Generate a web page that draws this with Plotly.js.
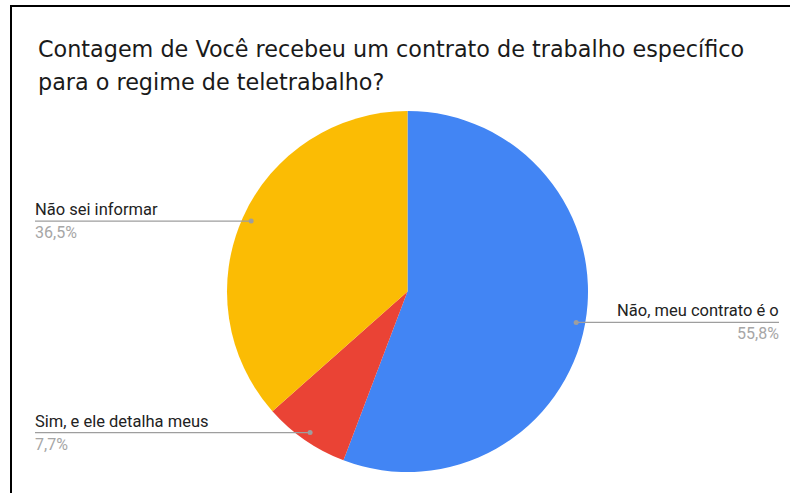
<!DOCTYPE html>
<html>
<head>
<meta charset="utf-8">
<script src="https://cdn.plot.ly/plotly-3.0.1.min.js"></script>
<style>
html,body{margin:0;padding:0;background:#fff;overflow:hidden;}
#wrap{position:relative;width:790px;height:493px;}
#chart{position:absolute;left:0;top:0;width:790px;height:493px;}
#frame{position:absolute;left:10px;top:5px;width:800px;height:500px;border-left:2px solid #000;border-top:2px solid #000;pointer-events:none;}
</style>
</head>
<body>
<div id="wrap"><div id="chart"></div><div id="frame"></div></div>
<script>
// Data
var titleLines = ["Contagem de Você recebeu um contrato de trabalho específico", "para o regime de teletrabalho?"];
var categories = ["Não, meu contrato é o", "Sim, e ele detalha meus", "Não sei informar"];
var counts = [29, 4, 19];
var percentLabels = ["55,8%", "7,7%", "36,5%"];
var colors = ["#4285F4", "#EA4335", "#FBBC04"];

// Layout geometry (pixels)
var W = 790, H = 493;
var M = {l: 227, r: 202, t: 111, b: 21};
var PW = W - M.l - M.r, PH = H - M.t - M.b;
var R = Math.min(PW, PH) / 2;
var CX = M.l + PW / 2, CY = M.t + PH / 2;
function px2x(px){ return (px - M.l) / PW; }
function py2y(py){ return (H - M.b - py) / PH; }

var total = counts.reduce(function(a,b){return a+b;}, 0);
var shapes = [], annotations = [];
var cum = 0;
var labelFont = 'Roboto, Arial, sans-serif';
for (var i = 0; i < counts.length; i++) {
  var mid = (cum + counts[i] / 2) / total;
  cum += counts[i];
  var th = 2 * Math.PI * mid;
  var dx = Math.sin(th) * 0.95 * R, dy = -Math.cos(th) * 0.95 * R;
  var dotX = CX + dx, dotY = CY + dy;
  var right = dx > 0;
  var endX = right ? 779 : 35;
  shapes.push({type:'line', xref:'paper', yref:'paper', x0:px2x(dotX), x1:px2x(endX), y0:py2y(dotY), y1:py2y(dotY), line:{color:'#9e9e9e', width:1.2}});
  shapes.push({type:'circle', xref:'paper', yref:'paper', x0:px2x(dotX-2.5), x1:px2x(dotX+2.5), y0:py2y(dotY+2.5), y1:py2y(dotY-2.5), fillcolor:'#9e9e9e', line:{width:0}});
  annotations.push({xref:'paper', yref:'paper', x:px2x(endX), y:py2y(dotY), xanchor: right ? 'right' : 'left', yanchor:'bottom', yshift:0, xshift: right ? 2 : -2, showarrow:false, text:categories[i], font:{family:labelFont, size:16.5, color:'#222222'}});
  annotations.push({xref:'paper', yref:'paper', x:px2x(endX), y:py2y(dotY), xanchor: right ? 'right' : 'left', yanchor:'top', yshift:0, xshift: right ? 2 : -2, showarrow:false, text:percentLabels[i], font:{family:labelFont, size:16, color:'#a6a6a6'}});
}
annotations.push({xref:'paper', yref:'paper', x:px2x(36), y:py2y(49), xanchor:'left', yanchor:'middle', showarrow:false, text:titleLines[0], font:{family:'DejaVu Sans, Arial, sans-serif', size:22.3, color:'#1a1a1a'}});
annotations.push({xref:'paper', yref:'paper', x:px2x(36), y:py2y(82), xanchor:'left', yanchor:'middle', showarrow:false, text:titleLines[1], font:{family:'DejaVu Sans, Arial, sans-serif', size:22.3, color:'#1a1a1a'}});

var trace = {
  type:'pie', values:counts, labels:categories, sort:false, direction:'clockwise', rotation:0,
  marker:{colors:colors, line:{width:0}}, textinfo:'none', hoverinfo:'label+percent', showlegend:false
};
var layout = {
  width:W, height:H, margin:M, paper_bgcolor:'#fff', plot_bgcolor:'#fff',
  showlegend:false, shapes:shapes, annotations:annotations
};
Plotly.newPlot('chart', [trace], layout, {displayModeBar:false, staticPlot:true});
</script>
</body>
</html>
